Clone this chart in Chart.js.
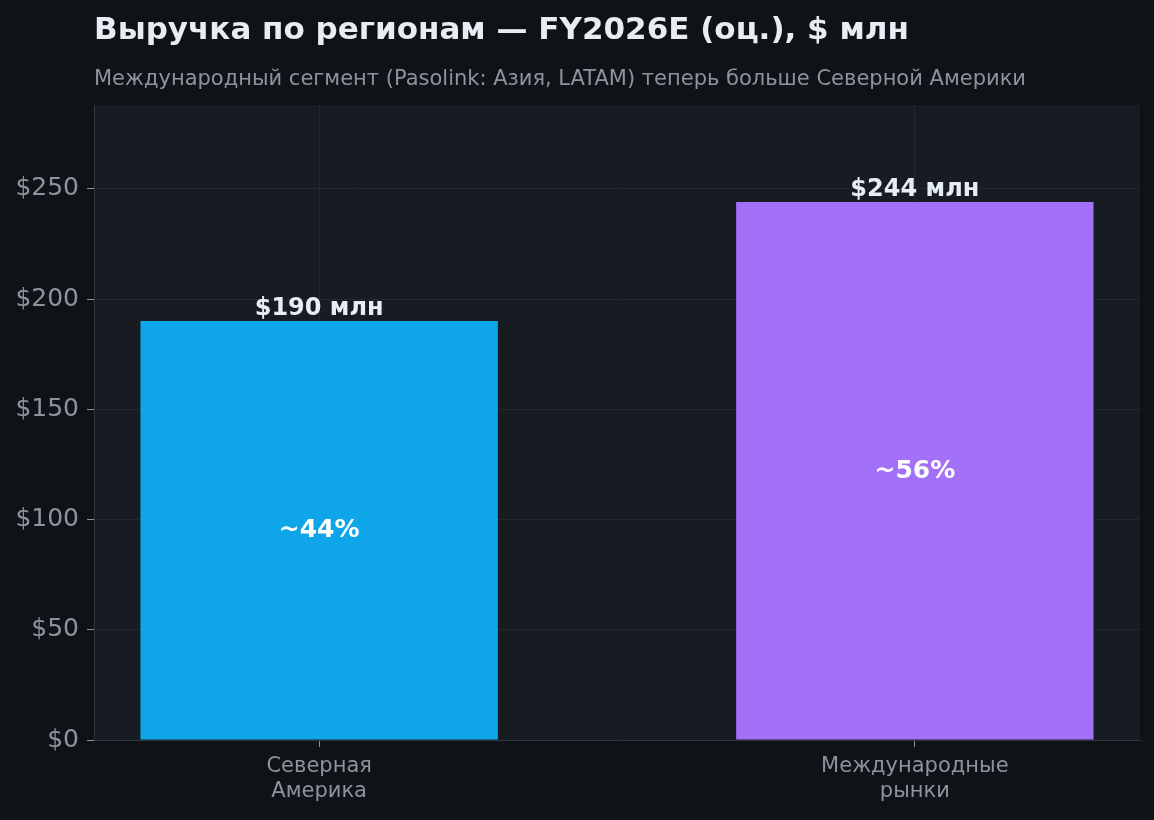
<!DOCTYPE html>
<html>
<head>
<meta charset="utf-8">
<script src="https://cdn.jsdelivr.net/npm/chart.js@4"></script>
<style>
  html, body { margin: 0; padding: 0; background: #0f1317; }
  #wrap { width: 1154px; height: 820px; position: relative; }
</style>
</head>
<body>
<div id="wrap"><canvas id="chart"></canvas></div>
<script>
const TITLE = 'Выручка по регионам — FY2026E (оц.), $ млн';
const SUBTITLE = 'Международный сегмент (Pasolink: Азия, LATAM) теперь больше Северной Америки';
const categories = [['Северная', 'Америка'], ['Международные', 'рынки']];
const positions = [0, 1];
const revenue = [190, 244];
const shares = ['~44%', '~56%'];
const barColors = ['#0ea5e9', '#a371f7'];
const yTicks = [0, 50, 100, 150, 200, 250];

const FONT = '"DejaVu Sans"';

// plot background, title and bar labels
const decor = {
    id: 'decor',
    beforeDraw(chart) {
        const { ctx, chartArea: a } = chart;
        ctx.save();
        ctx.fillStyle = '#171b22';
        ctx.fillRect(a.left, a.top, a.right - a.left, a.bottom - a.top);
        ctx.textAlign = 'left';
        ctx.textBaseline = 'alphabetic';
        ctx.fillStyle = '#e6edf3';
        ctx.font = 'bold 31px ' + FONT;
        ctx.fillText(TITLE, 94, 39);
        ctx.fillStyle = '#8b949e';
        ctx.font = '21px ' + FONT;
        ctx.fillText(SUBTITLE, 94, 85);
        ctx.restore();
    },
    afterDatasetsDraw(chart) {
        const { ctx } = chart;
        const meta = chart.getDatasetMeta(0);
        const y = chart.scales.y;
        ctx.save();
        ctx.textAlign = 'center';
        meta.data.forEach((bar, i) => {
            ctx.fillStyle = '#e6edf3';
            ctx.font = 'bold 24px ' + FONT;
            ctx.textBaseline = 'alphabetic';
            ctx.fillText('$' + revenue[i] + ' млн', bar.x, bar.y - 6);
            ctx.fillStyle = '#ffffff';
            ctx.font = 'bold 25px ' + FONT;
            ctx.textBaseline = 'middle';
            ctx.fillText(shares[i], bar.x, y.getPixelForValue(revenue[i] / 2));
        });
        ctx.restore();
    }
};

new Chart(document.getElementById('chart'), {
    type: 'bar',
    data: {
        datasets: [{
            data: positions.map((p, i) => ({ x: p, y: revenue[i] })),
            backgroundColor: barColors,
            borderWidth: 0,
            categoryPercentage: 0.6,
            barPercentage: 1
        }]
    },
    options: {
        responsive: true,
        maintainAspectRatio: false,
        animation: false,
        layout: { padding: { top: 105, right: 14, left: 0, bottom: 0 } },
        plugins: { legend: { display: false }, tooltip: { enabled: false } },
        scales: {
            x: {
                type: 'linear',
                min: -0.378,
                max: 1.378,
                offset: false,
                grid: { offset: false, color: '#232830', tickColor: '#8b949e', tickLength: 7 },
                border: { color: '#30363d' },
                afterBuildTicks(s) { s.ticks = positions.map(v => ({ value: v })); },
                ticks: {
                    color: '#8b949e',
                    font: { family: FONT, size: 21, lineHeight: 1.2 },
                    padding: 7,
                    callback: v => categories[v]
                },
                afterFit(s) { s.height = 80; }
            },
            y: {
                min: 0,
                max: 288,
                grid: { color: '#232830', tickColor: '#8b949e', tickLength: 7 },
                border: { color: '#30363d' },
                afterBuildTicks(s) { s.ticks = yTicks.map(v => ({ value: v })); },
                ticks: {
                    color: '#8b949e',
                    font: { family: FONT, size: 25 },
                    padding: 8,
                    callback: v => '$' + v
                },
                afterFit(s) { s.width = 94; }
            }
        }
    },
    plugins: [decor]
});
</script>
</body>
</html>
